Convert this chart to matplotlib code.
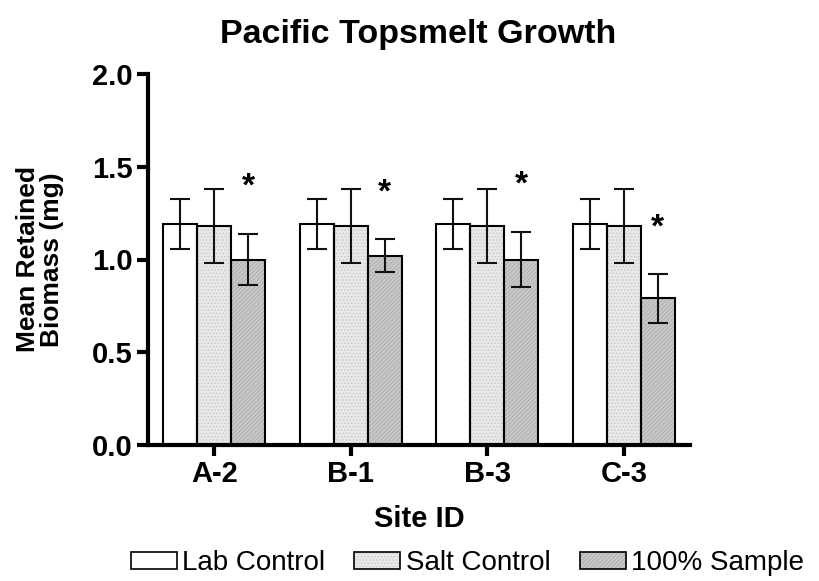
import numpy as np
import matplotlib.pyplot as plt
from matplotlib.patches import Patch
from matplotlib.legend_handler import HandlerTuple

plt.rcParams['font.family'] = ['Liberation Sans', 'DejaVu Sans']
plt.rcParams['hatch.linewidth'] = 0.5

sites = ['A-2', 'B-1', 'B-3', 'C-3']
series = ['Lab Control', 'Salt Control', '100% Sample']
lab_mean = [1.19, 1.19, 1.19, 1.19]
lab_err = [0.135, 0.135, 0.135, 0.135]
salt_mean = [1.18, 1.18, 1.18, 1.18]
salt_err = [0.2, 0.2, 0.2, 0.2]
sample_mean = [1.0, 1.02, 1.0, 0.79]
sample_err = [0.14, 0.09, 0.15, 0.13]
significant = [True, True, True, True]

means = [lab_mean, salt_mean, sample_mean]
errs = [lab_err, salt_err, sample_err]
faces = ['white', '#e8e8e8', '#c8c8c8']
hatches = [None, '.....', '////////']
hatch_cols = ['white', '#c4c4c4', '#a8a8a8']

fig = plt.figure(figsize=(8.2, 5.81), dpi=100)
ax = fig.add_axes([148 / 820, 136 / 581, 542 / 820, 371 / 581])

x = np.arange(len(sites))
w = 0.25
handles = []
for i in range(3):
    pos = x + (i - 1) * w
    # fill + texture first, black outline on top
    ax.bar(pos, means[i], w, color=faces[i], hatch=hatches[i],
           edgecolor=hatch_cols[i], linewidth=0, zorder=2)
    ax.bar(pos, means[i], w, fill=False, edgecolor='black', linewidth=1.5, zorder=3)
    ax.errorbar(pos, means[i], yerr=errs[i], fmt='none', ecolor='#111111',
                elinewidth=1.5, capsize=7, capthick=1.5, zorder=4)
    handles.append((Patch(facecolor=faces[i], hatch=hatches[i], edgecolor=hatch_cols[i], linewidth=0),
                    Patch(fill=False, edgecolor='black', linewidth=1.2)))

for j, sig in enumerate(significant):
    if sig:
        ax.text(x[j] + w, sample_mean[j] + sample_err[j] + 0.25, '*', ha='center', va='center',
                fontsize=24, fontweight='bold')

ax.set_xlim(-0.485, 3.485)
ax.set_ylim(0, 2.0)
ax.set_yticks([0.0, 0.5, 1.0, 1.5, 2.0])
ax.set_yticklabels(['0.0', '0.5', '1.0', '1.5', '2.0'])
ax.set_xticks(x)
ax.set_xticklabels(sites)
for lbl in ax.get_xticklabels() + ax.get_yticklabels():
    lbl.set_fontweight('bold')
ax.tick_params(axis='both', width=3, length=8, direction='out', pad=3)
ax.tick_params(axis='y', labelsize=21)
ax.tick_params(axis='x', labelsize=21)
for s in ['top', 'right']:
    ax.spines[s].set_visible(False)
for s in ['left', 'bottom']:
    ax.spines[s].set_linewidth(3)

fig.text(0.51, 1 - 34 / 581, 'Pacific Topsmelt Growth', ha='center', va='center',
         fontsize=24.5, fontweight='bold')
ax.set_xlabel('Site ID', fontsize=21, fontweight='bold', labelpad=12)
ax.set_ylabel('Mean Retained\nBiomass (mg)', fontsize=19, fontweight='bold', labelpad=20,
              linespacing=1.0)

fig.legend(handles, series, handler_map={tuple: HandlerTuple(ndivide=1, pad=0)},
           loc='lower center', bbox_to_anchor=(0.57, -0.035), ncol=3, frameon=False,
           fontsize=20, handlelength=1.65, handleheight=0.55, handletextpad=0.2,
           columnspacing=1.05)

fig.savefig('out.png', dpi=100)
